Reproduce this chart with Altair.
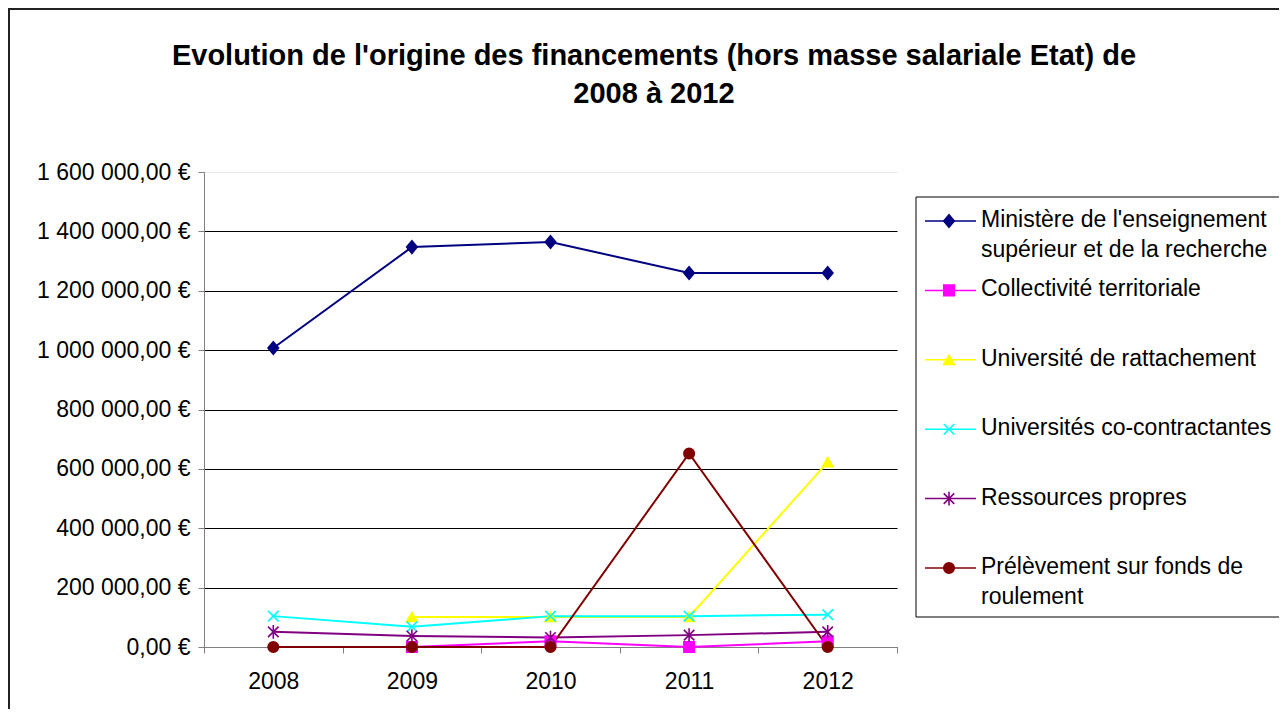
import altair as alt
import pandas as pd

# ---------------- data ----------------
years = ["2008", "2009", "2010", "2011", "2012"]
series = [
    "Ministère de l'enseignement supérieur et de la recherche",
    "Collectivité territoriale",
    "Université de rattachement",
    "Universités co-contractantes",
    "Ressources propres",
    "Prélèvement sur fonds de roulement",
]
legend_labels = [
    "Ministère de l'enseignement\nsupérieur et de la recherche",
    "Collectivité territoriale",
    "Université de rattachement",
    "Universités co-contractantes",
    "Ressources propres",
    "Prélèvement sur fonds de\nroulement",
]
ministere = [1007000, 1347000, 1364000, 1260000, 1260000]
collectivite = [None, 0, 19000, 0, 19000]
rattachement = [None, 101000, 101000, 101000, 623000]
cocontractantes = [104000, 68000, 104000, 104000, 109000]
propres = [51000, 37000, 32000, 40000, 51000]
prelevement = [0, 0, 0, 652000, 0]
y_ticks = [0, 200000, 400000, 600000, 800000, 1000000, 1200000, 1400000, 1600000]
title_text = "Evolution de l'origine des financements (hors masse salariale Etat) de\n2008 à 2012"

# ---------------- styles ----------------
colors = ["#000080", "#FF00FF", "#FFFF00", "#00FFFF", "#800080", "#800000"]
shapes = [
    "M0,-1.2L1,0L0,1.2L-1,0Z",
    "square",
    "triangle-up",
    "M-1,-1L1,1M-1,1L1,-1",
    "M-1,-1L1,1M-1,1L1,-1M0,-1.3L0,1.3",
    "circle",
]
FONT = "Liberation Sans"

values_by_series = [ministere, collectivite, rattachement, cocontractantes, propres, prelevement]
rows = []
for s, vals in zip(series, values_by_series):
    for yr, v in zip(years, vals):
        if v is not None:
            rows.append({"series": s, "year": yr, "value": v})
df = pd.DataFrame(rows)
legend_df = pd.DataFrame({"series": series, "label": legend_labels})
one_row = pd.DataFrame({"t": [title_text]})

color_scale = alt.Scale(domain=series, range=colors)
shape_scale = alt.Scale(domain=series, range=shapes)

y_label_expr = (
    "datum.value >= 1000000 ? "
    "format(floor(datum.value/1000000),'d') + ' ' + format(floor(datum.value/1000)%1000,'03d') + ' ' + format(datum.value%1000,'03d') + ',00 €' : "
    "(datum.value >= 1000 ? format(floor(datum.value/1000),'d') + ' ' + format(datum.value%1000,'03d') + ',00 €' : format(datum.value,'d') + ',00 €')"
)

x_enc = alt.X(
    "year:O",
    sort=years,
    bandPosition=0.5,
    scale=alt.Scale(type="band", domain=years, paddingInner=0, paddingOuter=0),
    axis=alt.Axis(
        title=None, labelAngle=0, tickBand="extent", tickSize=6, labelPadding=17,
        domainColor="#808080", tickColor="#808080", labelFontSize=23, labelColor="black",
        labelFont=FONT, grid=False,
    ),
)
y_enc = alt.Y(
    "value:Q",
    scale=alt.Scale(domain=[0, 1600000], nice=False),
    axis=alt.Axis(
        title=None, values=y_ticks, labelExpr=y_label_expr, tickSize=6, labelPadding=8,
        domainColor="#808080", tickColor="#808080", labelFontSize=23, labelColor="black",
        labelFont=FONT, grid=True, gridWidth=1,
        gridColor={"condition": {"test": "datum.value >= 1600000", "value": "#e8e8e8"},
                   "value": "black"},
    ),
)

lines = alt.Chart(df).mark_line(strokeWidth=2).encode(
    x=x_enc, y=y_enc,
    color=alt.Color("series:N", scale=color_scale, legend=None),
)
points = alt.Chart(df).mark_point(size=110, strokeWidth=1.6, opacity=1).encode(
    x=x_enc, y=y_enc,
    shape=alt.Shape("series:N", scale=shape_scale, legend=None),
    fill=alt.Fill("series:N", scale=color_scale, legend=None),
    stroke=alt.Stroke("series:N", scale=color_scale, legend=None),
)
data_layer = alt.layer(lines, points)

# ---------------- legend (drawn from the series list) ----------------
leg_y = alt.Y("series:N", sort=series,
              scale=alt.Scale(type="point", domain=series, range=[49, 396], padding=0),
              axis=None)
leg_box = alt.Chart(one_row).mark_rect(fillOpacity=0, stroke="black", strokeWidth=1).encode(
    x=alt.value(712), x2=alt.value(1120), y=alt.value(25), y2=alt.value(445))
leg_line = alt.Chart(legend_df).mark_rule(strokeWidth=1.5).encode(
    x=alt.value(721), x2=alt.value(772), y=leg_y,
    color=alt.Color("series:N", scale=color_scale, legend=None))
leg_pt = alt.Chart(legend_df).mark_point(size=110, strokeWidth=1.6, opacity=1).encode(
    x=alt.value(745), y=leg_y,
    shape=alt.Shape("series:N", scale=shape_scale, legend=None),
    fill=alt.Fill("series:N", scale=color_scale, legend=None),
    stroke=alt.Stroke("series:N", scale=color_scale, legend=None))
leg_txt = alt.Chart(legend_df).mark_text(
    align="left", baseline="alphabetic", dy=6, fontSize=23, font=FONT,
    lineBreak="\n", lineHeight=30, color="black").encode(
    x=alt.value(777), y=leg_y, text="label:N")
legend_layer = alt.layer(leg_line, leg_pt, leg_txt)

# ---------------- chart frame and title ----------------
frame = alt.Chart(one_row).mark_rect(fillOpacity=0, stroke="#222222", strokeWidth=2).encode(
    x=alt.value(-195), x2=alt.value(1150), y=alt.value(-163), y2=alt.value(600))
title = alt.Chart(one_row).mark_text(
    align="center", baseline="alphabetic", fontSize=29, fontWeight="bold", font=FONT,
    lineBreak="\n", lineHeight=38, color="black").encode(
    x=alt.value(450), y=alt.value(-107), text="t:N")

chart = alt.layer(frame, title, data_layer, leg_box, legend_layer).resolve_scale(
    y="independent"
).properties(
    width=693, height=475,
    autosize=alt.AutoSizeParams(type="none"),
    padding={"left": 196, "top": 164, "right": 382, "bottom": 62},
).configure(font=FONT).configure_view(strokeWidth=0, stroke="transparent")

chart.save("out.html", embed_options={"renderer": "svg", "actions": False})
